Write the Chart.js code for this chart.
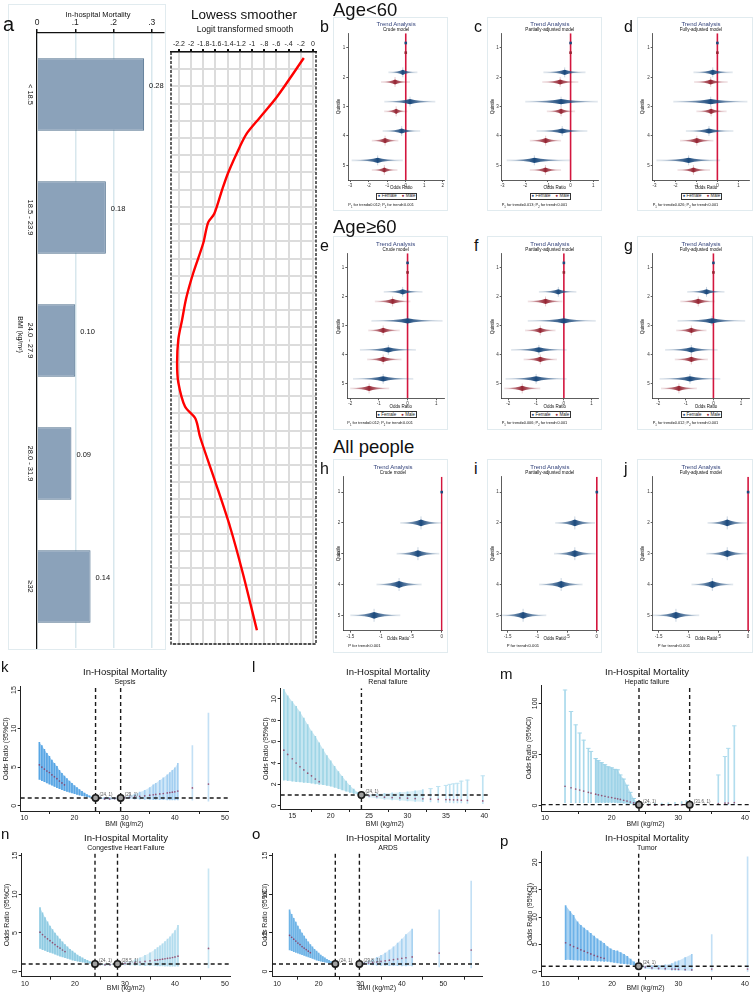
<!DOCTYPE html>
<html>
<head>
<meta charset="utf-8">
<script src="https://cdn.jsdelivr.net/npm/chart.js@4.4.1/dist/chart.umd.min.js"></script>
<style>
  body { margin:0; width:756px; height:992px; position:relative; overflow:hidden; background:#fff; font-family:"Liberation Sans", Arial, sans-serif; }
  canvas { position:absolute; z-index:1; }
  .lbl { position:absolute; white-space:nowrap; line-height:1; color:#111; z-index:2; }
  .box { position:absolute; border:1px solid #e1ebef; box-sizing:border-box; z-index:0; }
  .leg { position:absolute; border:0.8px solid #333; box-sizing:border-box; font-size:4.5px; line-height:1; white-space:nowrap; display:flex; align-items:center; justify-content:center; gap:5px; background:#fff; color:#222; z-index:2; }
</style>
</head>
<body>
<script>
Chart.defaults.font.family = '"Liberation Sans", Arial, sans-serif';

// ---------- panel a: in-hospital mortality by BMI group
const bmiGroups = ['< 18.5', '18.5 - 23.9', '24.0 - 27.9', '28.0 - 31.9', '≥32'];
const mortality = [0.28, 0.18, 0.10, 0.09, 0.14];
const mortTicks = [0, 0.1, 0.2, 0.3];
const mortTickLabels = ['0', '.1', '.2', '.3'];

// ---------- lowess smoother (logit value, position down the panel)
const lowessLogit = [-0.15, -0.59, -0.87, -1.08, -1.2, -1.39, -1.49, -1.62, -1.72, -1.8, -1.97, -2.08, -2.15, -2.21, -2.23, -2.21, -2.1, -1.93, -1.85, -1.61, -1.36, -1.15, -0.92];
const lowessPos = [0.35, 2.6, 3.8, 4.7, 5.5, 7.0, 8.0, 9.4, 9.9, 11.1, 12.9, 14.3, 15.6, 16.7, 18.1, 19.2, 20.6, 21.3, 22.4, 24.9, 27.6, 30.3, 33.6];
const lowessTicks = [-2.2, -2, -1.8, -1.6, -1.4, -1.2, -1, -0.8, -0.6, -0.4, -0.2, 0];
const lowessTickLabels = ['-2.2', '-2', '-1.8', '-1.6', '-1.4', '-1.2', '-1', '-.8', '-.6', '-.4', '-.2', '0'];

// ---------- trend analysis (log odds ratio by BMI quintile)
const quintiles = [1, 2, 3, 4, 5];
const bFemale = { est: [0, -0.16, 0.23, -0.22, -1.52], lo: [0, -0.94, -1.16, -1.25, -2.93], hi: [0, 0.63, 1.6, 0.78, -0.16] };
const bMale   = { est: [0, -0.58, -0.52, -1.12, -1.16], lo: [0, -1.34, -1.17, -1.84, -1.84], hi: [0, 0.23, 0.09, -0.4, -0.45] };
const cFemale = { est: [0, -0.26, -0.42, -0.37, -1.6], lo: [0, -1.2, -2.0, -1.5, -2.82], hi: [0, 0.66, 1.2, 0.74, -0.03] };
const cMale   = { est: [0, -0.46, -0.42, -1.1, -1.11], lo: [0, -1.25, -1.05, -1.8, -1.8], hi: [0, 0.34, 0.2, -0.42, -0.42] };
const dFemale = { est: [0, -0.22, -0.32, -0.4, -1.37], lo: [0, -1.14, -2.1, -1.5, -2.9], hi: [0, 0.73, 1.43, 0.76, 0.13] };
const dMale   = { est: [0, -0.32, -0.3, -0.98, -1.14], lo: [0, -1.11, -1.0, -1.78, -1.9], hi: [0, 0.49, 0.44, -0.19, -0.35] };
const eFemale = { est: [0, -0.17, 0, -0.67, -0.85], lo: [0, -0.83, -1.26, -1.66, -1.9], hi: [0, 0.52, 1.22, 0.29, 0.2] };
const eMale   = { est: [0, -0.52, -0.85, -0.85, -1.34], lo: [0, -1.14, -1.37, -1.41, -2.0], hi: [0, 0.1, -0.27, -0.21, -0.64] };
const fFemale = { est: [0, -0.2, 0, -0.9, -1.0], lo: [0, -0.9, -1.3, -1.9, -2.1], hi: [0, 0.45, 1.15, 0.1, 0.1] };
const fMale   = { est: [0, -0.66, -0.85, -0.85, -1.5], lo: [0, -1.3, -1.4, -1.45, -2.15], hi: [0, -0.05, -0.3, -0.25, -0.85] };
const gFemale = { est: [0, -0.25, -0.05, -0.8, -0.85], lo: [0, -0.95, -1.3, -1.75, -1.95], hi: [0, 0.4, 1.15, 0.15, 0.25] };
const gMale   = { est: [0, -0.55, -0.8, -0.8, -1.25], lo: [0, -1.2, -1.35, -1.4, -1.9], hi: [0, 0.05, -0.25, -0.2, -0.6] };
const hAll = { est: [0, -0.34, -0.39, -0.7, -1.11], lo: [0, -0.68, -0.74, -1.07, -1.5], hi: [0, 0, -0.04, -0.33, -0.68] };
const iAll = { est: [0, -0.37, -0.37, -0.6, -1.24], lo: [0, -0.7, -0.72, -0.97, -1.62], hi: [0, -0.03, -0.02, -0.24, -0.85] };
const jAll = { est: [0, -0.35, -0.35, -0.6, -1.21], lo: [0, -0.68, -0.7, -0.95, -1.6], hi: [0, -0.02, -0.01, -0.25, -0.82] };
const ticksAge1 = [-3, -2, -1, 0, 1, 2];
const ticksAge1b = [-3, -2, -1, 0, 1];
const ticksAge2 = [-2, -1, 0, 1];
const ticksAll = [-1.5, -1, -0.5, 0];
const ticksAllLabels = ['-1.5', '-1', '-.5', '0'];

// ---------- restricted cubic spline odds ratios by BMI
const kLeftBmi = [13, 13.5, 14, 14.5, 15, 15.5, 16, 16.5, 17, 17.5, 18, 18.5, 19, 19.5, 20, 20.5, 21, 21.5, 22, 22.5, 23, 23.5, 24.2];
const kLeftHi  = [8.2, 7.8, 7.3, 6.8, 6.4, 5.9, 5.5, 5.1, 4.6, 4.2, 3.85, 3.5, 3.2, 2.9, 2.6, 2.35, 2.1, 1.85, 1.65, 1.45, 1.28, 1.13, 1.0];
const kLeftLo  = [3.4, 3.25, 3.1, 2.95, 2.8, 2.65, 2.5, 2.35, 2.2, 2.08, 1.95, 1.85, 1.75, 1.65, 1.55, 1.45, 1.37, 1.3, 1.22, 1.15, 1.1, 1.05, 1.0];
const kLeftEst = [5.3, 5.0, 4.75, 4.5, 4.3, 4.0, 3.75, 3.5, 3.2, 2.95, 2.7, null, null, null, null, null, null, null, null, null, null, null, 1.0];
const kMidBmi = [24.2, 25, 26, 27, 28, 29.2];
const kMidHi  = [1.0, 1.02, 1.05, 1.05, 1.03, 1.0];
const kMidLo  = [1.0, 0.9, 0.82, 0.8, 0.85, 1.0];
const kMidEst = [1.0, 0.93, 0.88, 0.88, 0.92, 1.0];
const kRightBmi = [29.2, 30, 31, 32, 33, 34, 35, 35.7, 36.2, 37, 37.7, 38.5, 39, 39.5, 40, 40.6];
const kRightHi  = [1.0, 1.1, 1.3, 1.5, 1.75, 2.0, 2.35, 2.7, 2.9, 3.3, 3.6, 4.0, 4.3, 4.6, 4.9, 5.5];
const kRightLo  = [1.0, 0.95, 0.9, 0.86, 0.84, 0.82, 0.8, 0.79, 0.78, 0.78, 0.77, 0.76, 0.76, 0.75, 0.75, 0.74];
const kRightEst = [1.0, 1.03, 1.09, 1.15, 1.22, 1.28, 1.36, 1.42, 1.46, 1.52, 1.58, 1.65, 1.7, 1.75, 1.8, 1.9];
const kFarBmi = [43.5, 46.7], kFarHi = [7.8, 12.0], kFarLo = [0.7, 0.6], kFarEst = [2.3, 2.8];

const lLeftBmi = [13.9, 14.4, 15, 15.5, 16, 16.5, 17, 17.5, 18, 18.5, 19, 19.5, 20, 20.5, 21, 21.5, 22, 22.5, 23, 23.5, 24];
const lLeftHi  = [10.9, 10.3, 9.75, 9.3, 8.8, 8.2, 7.6, 7.0, 6.5, 5.9, 5.3, 4.7, 4.2, 3.7, 3.2, 2.75, 2.3, 1.9, 1.55, 1.25, 1.0];
const lLeftLo  = [2.4, 2.35, 2.3, 2.25, 2.22, 2.18, 2.15, 2.1, 2.05, 2.0, 1.97, 1.9, 1.82, 1.72, 1.6, 1.48, 1.36, 1.25, 1.15, 1.07, 1.0];
const lLeftEst = [5.2, 4.8, 4.4, 4.0, 3.65, 3.35, 3.05, 2.8, 2.5, 2.25, null, null, null, null, null, null, null, null, null, null, 1.0];
const lRightBmi = [24, 25, 26, 27, 28, 29, 30, 31, 32];
const lRightHi  = [1.0, 1.05, 1.1, 1.15, 1.2, 1.25, 1.3, 1.4, 1.5];
const lRightLo  = [1.0, 0.8, 0.7, 0.6, 0.55, 0.5, 0.45, 0.4, 0.38];
const lRightEst = [1.0, 0.92, 0.86, 0.8, 0.76, 0.73, 0.7, 0.67, 0.65];
const lFarBmi = [33, 34, 35, 35.5, 36, 36.5, 37, 37.8, 39.8];
const lFarHi  = [1.6, 1.8, 1.9, 2.0, 2.05, 2.1, 2.3, 2.4, 2.8];
const lFarLo  = [0.35, 0.3, 0.3, 0.28, 0.27, 0.26, 0.25, 0.22, 0.2];
const lFarEst = [0.62, 0.6, 0.57, 0.56, 0.55, 0.54, 0.52, 0.5, 0.45];

const mLeftBmi = [13, 13.9, 14.6, 15.2, 15.8, 16.5, 16.9];
const mLeftHi  = [113, 92, 79, 71, 64, 56, 53];
const mLeftLo  = [3, 3, 3, 3, 3, 3, 3];
const mLeftEst = [19, 17.5, 16.3, 15.3, 14.3, 13, 12.3];
const mDenseBmi = [17.6, 18, 18.5, 19, 19.5, 20, 20.5, 20.9, 21.3, 21.8, 22.3, 22.8, 23.3, 23.8, 24.1];
const mDenseHi  = [46, 44, 42, 40, 38, 37, 35.5, 35, 30, 26, 20, 13, 7, 3, 1];
const mDenseLo  = [3, 3, 3, 3, 3, 3, 3, 2.8, 2.6, 2.4, 2.2, 2, 1.6, 1.2, 1];
const mDenseEst = [11.2, 10.6, 9.9, 9.2, 8.5, 7.9, 7.2, 6.7, 6.1, 5.3, 4.5, 3.6, 2.7, 1.8, 1];
const mMidBmi = [24.5, 25.5, 26.5, 27.5, 28.5, 29.5, 30.5, 31.2];
const mMidHi  = [1.5, 2, 2.2, 2.5, 2.8, 3.2, 4, 5];
const mMidLo  = [0.5, 0.3, 0.3, 0.3, 0.3, 0.3, 0.3, 0.3];
const mMidEst = [0.8, 0.6, 0.5, 0.5, 0.5, 0.6, 0.7, 0.9];
const mFarBmi = [36, 37, 37.5, 38.4], mFarHi = [30, 48, 56, 78], mFarLo = [1, 1, 1, 1], mFarEst = [2, 2.5, 2.5, 3];

const nLeftBmi = [13, 13.5, 14, 14.5, 15, 15.5, 16, 16.5, 17, 17.5, 18, 18.5, 19, 19.5, 20, 20.5, 21, 21.5, 22, 22.5, 23, 23.5, 24];
const nLeftHi  = [8.3, 7.6, 7.0, 6.45, 5.9, 5.45, 5.0, 4.6, 4.2, 3.85, 3.5, 3.2, 2.9, 2.65, 2.4, 2.15, 1.95, 1.78, 1.6, 1.45, 1.3, 1.15, 1.0];
const nLeftLo  = [3.0, 2.85, 2.75, 2.6, 2.5, 2.38, 2.25, 2.12, 2.0, 1.9, 1.8, 1.7, 1.6, 1.5, 1.42, 1.35, 1.3, 1.24, 1.18, 1.12, 1.08, 1.04, 1.0];
const nLeftEst = [5.1, 4.8, 4.5, 4.25, 4.0, 3.75, 3.5, 3.25, 3.05, 2.8, 2.6, null, null, null, null, null, null, null, null, null, null, null, 1.0];
const nMidBmi = [24, 25, 26, 27, 28.5], nMidHi = [1, 1.0, 1.0, 1.0, 1.0], nMidLo = [1, 0.85, 0.8, 0.82, 1], nMidEst = [1, 0.92, 0.88, 0.9, 1];
const nRightBmi = [28.5, 29, 29.5, 30, 31, 32, 33, 34, 35, 36, 36.5, 37, 37.5, 38, 38.5, 39, 39.5, 40, 40.6];
const nRightHi  = [1.0, 1.05, 1.1, 1.2, 1.35, 1.55, 1.8, 2.1, 2.45, 2.85, 3.1, 3.35, 3.6, 3.9, 4.2, 4.5, 4.9, 5.3, 6.0];
const nRightLo  = [1.0, 0.95, 0.9, 0.88, 0.85, 0.82, 0.8, 0.78, 0.77, 0.76, 0.75, 0.74, 0.73, 0.72, 0.72, 0.71, 0.7, 0.7, 0.7];
const nRightEst = [1.0, 1.02, 1.04, 1.07, 1.12, 1.18, 1.25, 1.32, 1.4, 1.48, 1.52, 1.57, 1.62, 1.67, 1.72, 1.77, 1.83, 1.9, 2.0];
const nFarBmi = [46.7], nFarHi = [13.3], nFarLo = [0.5], nFarEst = [3.0];

const oLeftBmi = [13, 13.5, 14, 14.5, 15, 15.5, 16, 16.5, 17, 17.5, 18, 18.5, 19, 19.5, 20, 20.5, 21, 21.5, 22, 22.5, 23, 23.5, 24];
const oLeftHi  = [8.0, 7.4, 6.9, 6.4, 5.9, 5.45, 5.0, 4.6, 4.2, 3.85, 3.5, 3.2, 2.9, 2.65, 2.4, 2.15, 1.95, 1.78, 1.6, 1.45, 1.3, 1.15, 1.0];
const oLeftLo  = [2.8, 2.7, 2.6, 2.5, 2.4, 2.3, 2.2, 2.1, 2.0, 1.9, 1.8, 1.7, 1.6, 1.5, 1.42, 1.35, 1.3, 1.24, 1.18, 1.12, 1.08, 1.04, 1.0];
const oLeftEst = [4.7, 4.45, 4.2, 3.95, 3.7, 3.5, 3.25, 3.05, 2.85, 2.65, 2.45, null, null, null, null, null, null, null, null, null, null, null, 1.0];
const oRightBmi = [29.8, 31, 32, 33, 34, 35, 36, 37, 38, 39, 40, 41, 42.5];
const oRightHi  = [1.0, 1.2, 1.4, 1.6, 1.85, 2.1, 2.4, 2.8, 3.2, 3.7, 4.2, 4.8, 5.5];
const oRightLo  = [1.0, 0.93, 0.9, 0.86, 0.84, 0.82, 0.8, 0.78, 0.77, 0.76, 0.75, 0.74, 0.73];
const oRightEst = [1.0, 1.06, 1.12, 1.18, 1.25, 1.32, 1.4, 1.48, 1.56, 1.64, 1.72, 1.8, 1.9];
const oFarBmi = [49, 56.7], oFarHi = [8.0, 11.7], oFarLo = [0.6, 0.5], oFarEst = [2.4, 2.8];

const pLeftBmi = [13, 13.7, 14.2, 14.8, 15.3, 15.8, 16.3, 16.8, 17.3, 17.8, 18.3, 18.8, 19.3, 19.8, 20.3, 20.8, 21.3, 21.8, 22.3, 22.8, 23.3, 23.8, 24];
const pLeftHi  = [12.1, 11, 10.3, 9.1, 8.5, 8.0, 7.5, 7.0, 6.5, 6.0, 5.6, 5.2, 4.6, 4.2, 3.9, 3.8, 3.5, 3.2, 2.8, 2.3, 1.8, 1.3, 1.0];
const pLeftLo  = [2.2, 2.2, 2.15, 2.1, 2.1, 2.05, 2.05, 2.0, 2.0, 1.95, 1.95, 1.9, 1.9, 1.8, 1.7, 1.6, 1.5, 1.45, 1.4, 1.3, 1.2, 1.1, 1.0];
const pLeftEst = [5.3, 4.9, 4.6, 4.3, 4.0, 3.75, 3.5, 3.25, 3.0, 2.8, 2.6, 2.45, null, null, null, null, null, null, null, null, null, null, 1.0];
const pRightBmi = [24, 25, 26, 27, 28, 29, 29.5, 30, 31, 32];
const pRightHi  = [1.0, 1.05, 1.1, 1.15, 1.25, 1.5, 1.8, 2.0, 2.6, 3.2];
const pRightLo  = [1.0, 0.6, 0.45, 0.4, 0.35, 0.3, 0.3, 0.25, 0.22, 0.2];
const pRightEst = [1.0, 0.85, 0.7, 0.6, 0.55, 0.5, 0.48, 0.45, 0.4, 0.35];
const pFarBmi = [35, 40.4], pFarHi = [6.8, 21], pFarLo = [0.1, 0.05], pFarEst = [0.5, 0.5];

const FEMALE = '28,74,125', MALE = '150,38,52';

// ---------- helpers
function addCanvas(x, y, w, h) {
  const c = document.createElement('canvas');
  c.width = w; c.height = h;
  c.style.left = x + 'px'; c.style.top = y + 'px';
  c.style.width = w + 'px'; c.style.height = h + 'px';
  document.body.appendChild(c);
  return c;
}
function label(html, x, y, size, o = {}) {
  const d = document.createElement('div');
  d.className = 'lbl';
  d.innerHTML = html;
  d.style.left = x + 'px';
  d.style.top = (y - size / 2) + 'px';
  d.style.fontSize = size + 'px';
  if (o.color) d.style.color = o.color;
  let tf = o.align === 'left' ? '' : 'translateX(-50%)';
  if (o.rot) tf = 'translateX(-50%) rotate(' + o.rot + 'deg)';
  d.style.transform = tf;
  document.body.appendChild(d);
  return d;
}
function box(x, y, w, h) {
  const d = document.createElement('div');
  d.className = 'box';
  d.style.cssText = `left:${x}px;top:${y}px;width:${w}px;height:${h}px;`;
  document.body.appendChild(d);
}
const fixTicks = vals => s => { s.ticks = vals.map(v => ({ value: v })); };
const noUi = { legend: { display: false }, tooltip: { enabled: false } };

// ---------- plugins
const aLabels = {
  id: 'aLabels',
  afterDatasetsDraw(chart) {
    const { ctx, scales: { x, y } } = chart;
    ctx.save();
    ctx.fillStyle = '#111';
    ctx.textBaseline = 'middle';
    bmiGroups.forEach((g, i) => {
      const py = y.getPixelForValue(i);
      ctx.font = '7.5px "Liberation Sans", Arial';
      ctx.textAlign = 'center';
      ctx.save(); ctx.translate(x.left - 7, py); ctx.rotate(Math.PI / 2); ctx.fillText(g, 0, 0); ctx.restore();
      ctx.textAlign = 'left';
      ctx.fillText(mortality[i].toFixed(2), x.getPixelForValue(mortality[i]) + 5, py - 9);
    });
    ctx.font = '7px "Liberation Sans", Arial';
    ctx.textAlign = 'center';
    ctx.save(); ctx.translate(x.left - 17, (y.top + y.bottom) / 2 - 6); ctx.rotate(Math.PI / 2); ctx.fillText('BMI (kg/m²)', 0, 0); ctx.restore();
    ctx.restore();
  }
};

const dashedFrame = {
  id: 'dashedFrame',
  afterDraw(chart) {
    const { ctx, chartArea: a } = chart;
    ctx.save();
    ctx.strokeStyle = '#222'; ctx.lineWidth = 1.4; ctx.setLineDash([3, 1.5]);
    ctx.beginPath();
    ctx.moveTo(a.left, a.top); ctx.lineTo(a.left, a.bottom); ctx.lineTo(a.right, a.bottom); ctx.lineTo(a.right, a.top);
    ctx.stroke();
    ctx.restore();
  }
};

const spindles = {
  id: 'spindles',
  afterDatasetsDraw(chart, args, o) {
    const { ctx, scales: { x, y } } = chart;
    const h = o.half || 2.6;
    ctx.save();
    chart.data.datasets.forEach(ds => {
      if (!ds.rgb) return;
      const c = ds.rgb;
      ds.data.forEach(d => {
        const px = x.getPixelForValue(d.x), py = y.getPixelForValue(d.y);
        if (d.lo === d.hi) {
          ctx.fillStyle = `rgb(${c})`;
          ctx.fillRect(px - 1.3, py - 1.3, 2.6, 2.6);
          return;
        }
        const l = x.getPixelForValue(d.lo), r = x.getPixelForValue(d.hi);
        const t = Math.min(0.98, Math.max(0.02, (px - l) / (r - l)));
        ctx.fillStyle = `rgba(${c},0.13)`;
        ctx.fillRect(l, py - 0.9, r - l, 1.8);
        const g = ctx.createLinearGradient(l, 0, r, 0);
        g.addColorStop(0, `rgba(${c},0.04)`);
        g.addColorStop(t, `rgba(${c},1)`);
        g.addColorStop(1, `rgba(${c},0.04)`);
        ctx.fillStyle = g;
        ctx.beginPath();
        ctx.moveTo(l, py);
        ctx.quadraticCurveTo(px - (px - l) * 0.3, py - h * 0.15, px, py - h);
        ctx.quadraticCurveTo(px + (r - px) * 0.3, py - h * 0.15, r, py);
        ctx.quadraticCurveTo(px + (r - px) * 0.3, py + h * 0.15, px, py + h);
        ctx.quadraticCurveTo(px - (px - l) * 0.3, py + h * 0.15, l, py);
        ctx.fill();
        ctx.strokeStyle = `rgba(${c},0.3)`;
        ctx.lineWidth = 0.8;
        ctx.beginPath(); ctx.moveTo(px, py - h * 1.9); ctx.lineTo(px, py + h * 1.9); ctx.stroke();
      });
    });
    ctx.restore();
  }
};

const rotTicks = {
  id: 'rotTicks',
  afterDraw(chart, args, o) {
    if (!o || !o.values) return;
    const { ctx } = chart, y = chart.scales.y;
    ctx.save();
    ctx.font = '7px "Liberation Sans", Arial';
    ctx.fillStyle = '#222'; ctx.textAlign = 'center'; ctx.textBaseline = 'bottom';
    o.values.forEach(v => {
      ctx.save(); ctx.translate(y.right - 3, y.getPixelForValue(v)); ctx.rotate(-Math.PI / 2);
      ctx.fillText(String(v), 0, 0); ctx.restore();
    });
    ctx.restore();
  }
};

const knotText = {
  id: 'knotText',
  afterDatasetsDraw(chart, args, o) {
    if (!o || !o.items) return;
    const { ctx, scales: { x, y } } = chart;
    ctx.save();
    ctx.font = '4.5px "Liberation Sans", Arial';
    ctx.fillStyle = '#555'; ctx.textAlign = 'left'; ctx.textBaseline = 'bottom';
    o.items.forEach(it => ctx.fillText(it.text, x.getPixelForValue(it.x) + 4, y.getPixelForValue(1) - 1));
    ctx.restore();
  }
};

// ---------- panel a
box(8, 4, 158, 646);
label('a', 3, 24, 20, { align: 'left' });
label('In-hospital Mortality', 98, 15, 7.5);
new Chart(addCanvas(8, 0, 157, 650), {
  type: 'bar',
  data: { labels: bmiGroups, datasets: [{ data: mortality, backgroundColor: '#8ba2ba', borderColor: '#52718f', borderWidth: 1, barPercentage: 0.59, categoryPercentage: 1 }] },
  options: {
    indexAxis: 'y', responsive: false, animation: false, events: [],
    layout: { padding: { left: 0, right: 1, top: 0, bottom: 2 } },
    plugins: noUi,
    scales: {
      x: { position: 'top', min: 0, max: 0.332, afterBuildTicks: fixTicks(mortTicks), afterFit: s => { s.height = 33; },
           ticks: { callback: (v, i) => mortTickLabels[i], font: { size: 8.5 }, color: '#222', padding: 1, maxRotation: 0 },
           grid: { color: '#d8e7ed', lineWidth: 1.5, tickColor: '#111', tickLength: 4 },
           border: { color: '#111', width: 1.2 } },
      y: { afterFit: s => { s.width = 29; }, ticks: { display: false }, grid: { display: false }, border: { color: '#111', width: 1.2 } }
    }
  },
  plugins: [aLabels]
});

// ---------- lowess panel
label('Lowess smoother', 244, 15, 13.5);
label('Logit transformed smooth', 245, 29, 8.5);
new Chart(addCanvas(165, 0, 155, 650), {
  type: 'line',
  data: { datasets: [{ data: lowessLogit.map((v, i) => ({ x: v, y: lowessPos[i] })), borderColor: '#ff0000', borderWidth: 2.4, pointRadius: 0, tension: 0.3 }] },
  options: {
    responsive: false, animation: false, events: [],
    layout: { padding: { left: 0, right: 4, top: 0, bottom: 6 } },
    plugins: noUi,
    scales: {
      x: { type: 'linear', position: 'top', min: -2.33, max: 0.05, afterBuildTicks: fixTicks(lowessTicks), afterFit: s => { s.height = 52; },
           ticks: { callback: (v, i) => lowessTickLabels[i], font: { size: 7 }, color: '#222', padding: 1, maxRotation: 0, autoSkip: false },
           grid: { color: '#dcdcdc', lineWidth: 2, tickColor: '#111', tickLength: 3 },
           border: { color: '#111', width: 1.5 } },
      y: { type: 'linear', reverse: true, min: 0, max: 34.4, afterFit: s => { s.width = 6; },
           ticks: { display: false, stepSize: 1 }, grid: { color: '#dcdcdc', lineWidth: 2, drawTicks: false }, border: { display: false } }
    }
  },
  plugins: [dashedFrame]
});

// ---------- trend panels
label('Age&lt;60', 333, 10, 18.5, { align: 'left' });
label('Age≥60', 333, 227, 18.5, { align: 'left' });
label('All people', 333, 447, 18.5, { align: 'left' });

function trendPanel(p) {
  const [bx, by, bw, bh] = p.box;
  box(bx, by, bw, bh);
  label(p.letter, bx - 13, by + 10, 16, { align: 'left' });
  const datasets = p.series.map(s => ({
    data: quintiles.map((q, i) => ({ x: s[0].est[i], y: q + s[2], lo: s[0].lo[i], hi: s[0].hi[i] })),
    rgb: s[1], pointRadius: 0
  }));
  datasets.push({ type: 'line', data: [{ x: 0, y: 0.5 }, { x: 0, y: 5.5 }], borderColor: '#d3163e', borderWidth: 1.6, pointRadius: 0 });
  new Chart(addCanvas(bx, by, bw, bh), {
    type: 'scatter',
    data: { datasets },
    options: {
      responsive: false, animation: false, events: [],
      layout: { padding: { left: 0, right: bx + bw - p.right, top: p.top - by, bottom: 0 } },
      plugins: { legend: { display: false }, tooltip: { enabled: false }, spindles: { half: p.half } },
      scales: {
        x: { type: 'linear', min: p.xr[0], max: p.xr[1], afterBuildTicks: fixTicks(p.xticks), afterFit: s => { s.height = by + bh - p.bottom; },
             ticks: { callback: (v, i) => p.xlabels[i], font: { size: 4.5 }, color: '#333', padding: 1, maxRotation: 0, autoSkip: false },
             grid: { display: true, drawOnChartArea: false, tickLength: 2, color: '#333', lineWidth: 0.8 }, border: { color: '#333', width: 0.8 } },
        y: { type: 'linear', reverse: true, min: 0.5, max: 5.5, afterBuildTicks: fixTicks(quintiles), afterFit: s => { s.width = p.axis - bx; },
             ticks: { font: { size: 4.5 }, color: '#333', padding: 1 },
             grid: { display: true, drawOnChartArea: false, tickLength: 2, color: '#333', lineWidth: 0.8 }, border: { color: '#333', width: 0.8 } }
      }
    },
    plugins: [spindles]
  });
  const mid = (p.axis + p.right) / 2;
  label('Trend Analysis', mid, p.top - 9.5, 6, { color: '#2f3f78' });
  label(p.model, mid, p.top - 3.5, 4.6);
  label('Quintile', bx + 6, (p.top + p.bottom) / 2, 4.5, { rot: -90 });
  label('Odds Ratio', mid + 5, p.bottom + 8.5, 4.5);
  if (p.legend) {
    const lg = document.createElement('div');
    lg.className = 'leg';
    lg.style.cssText += `left:${mid - 20}px;top:${p.bottom + 13}px;width:41px;height:7px;`;
    lg.innerHTML = `<span><span style="color:rgb(${FEMALE})">●</span> Female</span><span><span style="color:rgb(${MALE})">●</span> Male</span>`;
    document.body.appendChild(lg);
    label(p.ptext, p.axis, p.bottom + 25, 3.9, { align: 'left' });
  } else {
    label(p.ptext, p.axis + 5, p.bottom + 15, 4.2, { align: 'left' });
  }
}
const pt = (a, b) => `P<sub style="font-size:70%">1</sub> for trend=${a}; P<sub style="font-size:70%">2</sub> for trend&lt;${b}`;
const sexSeries = (f, m) => [[f, FEMALE, -0.17], [m, MALE, 0.16]];
const row1 = { top: 33.3, bottom: 180, legend: true, half: 2.6 };
const row2 = { top: 253.3, bottom: 398.3, legend: true, half: 2.6 };
const row3 = { top: 476.7, bottom: 630.7, legend: false, half: 3.4 };
const lab = v => v.map(String);
trendPanel({ ...row1, letter: 'b', box: [333, 17, 115, 194], axis: 348.3, right: 444, xr: [-3.11, 2.07], xticks: ticksAge1, xlabels: lab(ticksAge1), model: 'Crude model', series: sexSeries(bFemale, bMale), ptext: pt('0.012', '0.001') });
trendPanel({ ...row1, letter: 'c', box: [487, 17, 115, 194], axis: 501.7, right: 598, xr: [-3.04, 1.21], xticks: ticksAge1b, xlabels: lab(ticksAge1b), model: 'Partially-adjusted model', series: sexSeries(cFemale, cMale), ptext: pt('0.013', '0.001') });
trendPanel({ ...row1, letter: 'd', box: [637, 17, 116, 194], axis: 652.7, right: 749.3, xr: [-3.08, 1.52], xticks: ticksAge1b, xlabels: lab(ticksAge1b), model: 'Fully-adjusted model', series: sexSeries(dFemale, dMale), ptext: pt('0.026', '0.001') });
trendPanel({ ...row2, letter: 'e', box: [333, 236, 115, 194], axis: 347.3, right: 444, xr: [-2.1, 1.27], xticks: ticksAge2, xlabels: lab(ticksAge2), model: 'Crude model', series: sexSeries(eFemale, eMale), ptext: pt('0.012', '0.001') });
trendPanel({ ...row2, letter: 'f', box: [487, 236, 115, 194], axis: 501.7, right: 598, xr: [-2.24, 1.23], xticks: ticksAge2, xlabels: lab(ticksAge2), model: 'Partially-adjusted model', series: sexSeries(fFemale, fMale), ptext: pt('0.006', '0.001') });
trendPanel({ ...row2, letter: 'g', box: [637, 236, 116, 194], axis: 652.7, right: 749.3, xr: [-2.2, 1.3], xticks: ticksAge2, xlabels: lab(ticksAge2), model: 'Fully-adjusted model', series: sexSeries(gFemale, gMale), ptext: pt('0.012', '0.001') });
trendPanel({ ...row3, letter: 'h', box: [333, 459, 115, 194], axis: 343.3, right: 442.7, xr: [-1.615, 0.016], xticks: ticksAll, xlabels: ticksAllLabels, model: 'Crude model', series: [[hAll, FEMALE, 0]], ptext: 'P for trend&lt;0.001' });
trendPanel({ ...row3, letter: 'i', box: [487, 459, 115, 194], axis: 501.7, right: 598, xr: [-1.6, 0.02], xticks: ticksAll, xlabels: ticksAllLabels, model: 'Partially-adjusted model', series: [[iAll, FEMALE, 0]], ptext: 'P for trend&lt;0.001' });
trendPanel({ ...row3, letter: 'j', box: [637, 459, 116, 194], axis: 652.7, right: 749.3, xr: [-1.6, 0.02], xticks: ticksAll, xlabels: ticksAllLabels, model: 'Fully-adjusted model', series: [[jAll, FEMALE, 0]], ptext: 'P for trend&lt;0.001' });

// ---------- odds ratio panels
function orPanel(p) {
  const [cx, cy, cw, ch] = p.canvas;
  const ds = [];
  ds.push({ type: 'scatter', data: p.knots.map(k => ({ x: k, y: 1 })), pointRadius: 3.2, pointBorderWidth: 1.6, pointBorderColor: '#1a1a1a', pointBackgroundColor: '#a0a0a0' });
  p.knots.forEach(k => ds.push({ type: 'line', data: [{ x: k, y: p.y[0] }, { x: k, y: p.y[1] }], borderColor: '#1a1a1a', borderWidth: 1.4, borderDash: [4, 3], pointRadius: 0 }));
  ds.push({ type: 'line', data: [{ x: p.x[0], y: 1 }, { x: p.x[1], y: 1 }], borderColor: '#1a1a1a', borderWidth: 1.4, borderDash: [4, 3], pointRadius: 0 });
  p.groups.forEach(g => {
    const pts = g.bmi.map((b, i) => ({ x: b, y: g.est[i] })).filter(d => d.y !== null);
    ds.push({ type: 'scatter', data: pts, pointRadius: 0.85, pointBorderWidth: 0, pointBackgroundColor: 'rgba(140,40,80,0.75)' });
  });
  p.groups.forEach(g => {
    if (g.caps) ds.push({ type: 'scatter', data: g.bmi.map((b, i) => ({ x: b, y: g.hi[i] })), pointStyle: 'line', pointRadius: 2.2, pointBorderWidth: 1, pointBorderColor: g.bar });
    ds.push({ type: 'bar', data: g.bmi.map((b, i) => ({ x: b, y: [g.lo[i], g.hi[i]] })), backgroundColor: g.bar, barThickness: 1, grouped: false });
    if (g.band) {
      ds.push({ type: 'line', data: g.bmi.map((b, i) => ({ x: b, y: g.hi[i] })), borderWidth: 0, pointRadius: 0, fill: '+1', backgroundColor: g.band });
      ds.push({ type: 'line', data: g.bmi.map((b, i) => ({ x: b, y: g.lo[i] })), borderWidth: 0, pointRadius: 0, fill: false });
    }
  });
  new Chart(addCanvas(cx, cy, cw, ch), {
    type: 'bar',
    data: { datasets: ds },
    options: {
      responsive: false, animation: false, events: [],
      layout: { padding: { left: p.padL, right: cx + cw - p.right, top: p.top - cy, bottom: 0 } },
      plugins: { legend: { display: false }, tooltip: { enabled: false }, rotTicks: { values: p.yticks }, knotText: { items: p.knotLabels } },
      scales: {
        x: { type: 'linear', min: p.x[0], max: p.x[1], offset: false, afterBuildTicks: fixTicks(p.xticks), afterFit: s => { s.height = cy + ch - p.axisY; },
             ticks: { font: { size: 7 }, color: '#222', padding: 0, maxRotation: 0, autoSkip: false },
             grid: { display: true, drawOnChartArea: false, tickLength: 3, color: '#222', lineWidth: 1 }, border: { color: '#222', width: 1 },
             title: { display: true, text: 'BMI (kg/m2)', font: { size: 7 }, color: '#222', padding: 0 } },
        y: { type: 'linear', min: p.y[0], max: p.y[1], afterBuildTicks: fixTicks(p.yticks), afterFit: s => { s.width = p.axisX - cx - p.padL; },
             ticks: { display: false },
             grid: { display: true, drawOnChartArea: false, tickLength: 3, color: '#222', lineWidth: 1 }, border: { color: '#222', width: 1 },
             title: { display: true, text: 'Odds Ratio (95%CI)', font: { size: 7 }, color: '#222', padding: 0 } }
      }
    },
    plugins: [rotTicks, knotText]
  });
  label(p.letter, p.lx, p.ly, 15, { align: 'left' });
  label('In-Hospital Mortality', p.tx, p.ty, 9.5);
  label(p.sub, p.tx, p.ty + 10, 7);
}
const grp = (bmi, hi, lo, est, bar, band, caps) => ({ bmi, hi, lo, est, bar, band, caps });
const yTicks15 = [0, 5, 10, 15], xTicks50 = [10, 20, 30, 40, 50], xTicks40 = [10, 20, 30, 40];

orPanel({ letter: 'k', lx: 1, ly: 666, tx: 125, ty: 671.5, sub: 'Sepsis', canvas: [0, 660, 250, 168], padL: 1.8, axisX: 20.7, axisY: 811, top: 686.7, right: 228,
  x: [9.28, 50.6], y: [-0.69, 15.43], xticks: xTicks50, yticks: yTicks15, knots: [24.2, 29.2], knotLabels: [{ x: 24.2, text: '(24, 1)' }, { x: 29.2, text: '(29, 1)' }],
  groups: [grp(kLeftBmi, kLeftHi, kLeftLo, kLeftEst, '#58a6e4', 'rgba(95,170,232,0.6)'), grp(kMidBmi, kMidHi, kMidLo, kMidEst, '#8cc2ee', 'rgba(140,195,238,0.6)'),
           grp(kRightBmi, kRightHi, kRightLo, kRightEst, '#a4cff1', 'rgba(170,212,243,0.55)'), grp(kFarBmi, kFarHi, kFarLo, kFarEst, '#c3e0f5')] });
orPanel({ letter: 'l', lx: 252, ly: 666, tx: 388, ty: 671.5, sub: 'Renal failure', canvas: [250, 660, 250, 168], padL: 11.5, axisX: 280.7, axisY: 809, top: 688.3, right: 489,
  x: [13.49, 40.61], y: [-0.31, 11.0], xticks: [15, 20, 25, 30, 35, 40], yticks: [0, 2, 4, 6, 8, 10], knots: [24], knotLabels: [{ x: 24, text: '(24, 1)' }],
  groups: [grp(lLeftBmi, lLeftHi, lLeftLo, lLeftEst, '#9fd5e6', 'rgba(160,214,232,0.6)'), grp(lRightBmi, lRightHi, lRightLo, lRightEst, '#b3def0', 'rgba(185,225,240,0.5)'),
           grp(lFarBmi, lFarHi, lFarLo, lFarEst, '#bfe3f2', null, true)] });
orPanel({ letter: 'm', lx: 500, ly: 673, tx: 647, ty: 671.5, sub: 'Hepatic failure', canvas: [500, 660, 256, 168], padL: 25, axisX: 541.7, axisY: 811, top: 685, right: 749.3,
  x: [9.5, 40.65], y: [-5.2, 117.9], xticks: xTicks40, yticks: [0, 50, 100], knots: [24.1, 31.7], knotLabels: [{ x: 24.1, text: '(24, 1)' }, { x: 31.7, text: '(31.6, 1)' }],
  groups: [grp(mLeftBmi, mLeftHi, mLeftLo, mLeftEst, '#a9d9eb', null, true), grp(mDenseBmi, mDenseHi, mDenseLo, mDenseEst, '#9ed3e8', 'rgba(160,212,232,0.75)', true),
           grp(mMidBmi, mMidHi, mMidLo, mMidEst, '#b2ddee'), grp(mFarBmi, mFarHi, mFarLo, mFarEst, '#b2ddee', null, true)] });
orPanel({ letter: 'n', lx: 1, ly: 833, tx: 126, ty: 837.5, sub: 'Congestive Heart Failure', canvas: [0, 825, 250, 167], padL: 3, axisX: 21.7, axisY: 976.7, top: 853.3, right: 230,
  x: [9.34, 51.0], y: [-0.65, 15.3], xticks: xTicks50, yticks: yTicks15, knots: [24, 28.5], knotLabels: [{ x: 24, text: '(24, 1)' }, { x: 28.5, text: '(28.5, 1)' }],
  groups: [grp(nLeftBmi, nLeftHi, nLeftLo, nLeftEst, '#8fcbe2', 'rgba(150,208,230,0.65)'), grp(nMidBmi, nMidHi, nMidLo, nMidEst, '#a9d8ea', 'rgba(170,216,234,0.6)'),
           grp(nRightBmi, nRightHi, nRightLo, nRightEst, '#b2dcee', 'rgba(185,224,240,0.5)'), grp(nFarBmi, nFarHi, nFarLo, nFarEst, '#c8e6f3')] });
orPanel({ letter: 'o', lx: 252, ly: 833, tx: 388, ty: 837.5, sub: 'ARDS', canvas: [250, 825, 250, 167], padL: 11, axisX: 272, axisY: 976.7, top: 853.3, right: 482,
  x: [8.77, 59.3], y: [-0.65, 15.3], xticks: xTicks50, yticks: yTicks15, knots: [24, 29.8], knotLabels: [{ x: 24, text: '(24, 1)' }, { x: 29.8, text: '(29.8, 1)' }],
  groups: [grp(oLeftBmi, oLeftHi, oLeftLo, oLeftEst, '#6fb4e6', 'rgba(120,185,235,0.6)'), grp(oRightBmi, oRightHi, oRightLo, oRightEst, '#a9d3f1', 'rgba(175,214,243,0.5)'),
           grp(oFarBmi, oFarHi, oFarLo, oFarEst, '#c3e0f5')] });
orPanel({ letter: 'p', lx: 500, ly: 840, tx: 647, ty: 837.5, sub: 'Tumor', canvas: [500, 825, 256, 167], padL: 25.8, axisX: 541.7, axisY: 976.7, top: 851.7, right: 749.3,
  x: [9.4, 40.66], y: [-0.91, 21.94], xticks: xTicks40, yticks: [0, 5, 10, 15, 20], knots: [24], knotLabels: [{ x: 24, text: '(24, 1)' }],
  groups: [grp(pLeftBmi, pLeftHi, pLeftLo, pLeftEst, '#6db2e8', 'rgba(110,180,234,0.6)'), grp(pRightBmi, pRightHi, pRightLo, pRightEst, '#9fcdf0', 'rgba(165,210,242,0.55)'),
           grp(pFarBmi, pFarHi, pFarLo, pFarEst, '#c3e0f5')] });
</script>
</body>
</html>
